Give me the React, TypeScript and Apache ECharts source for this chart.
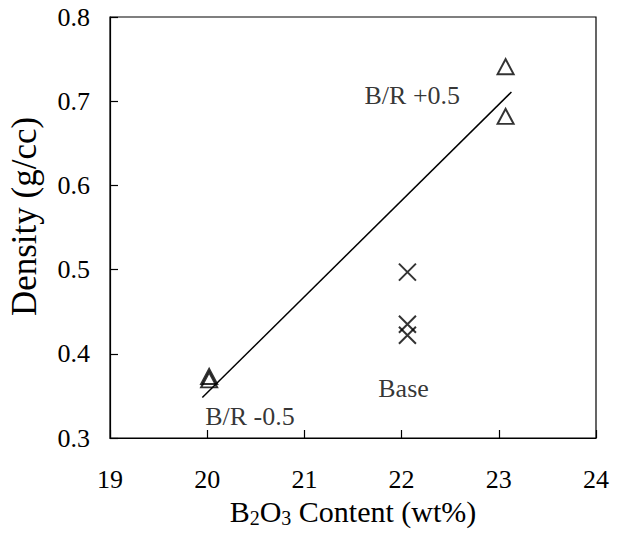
import React, { useEffect, useRef } from "react";
import * as echarts from "echarts";

const triangleX = [20.02, 20.02, 23.07, 23.07];
const triangleY = [0.373, 0.369, 0.741, 0.682];
const crossX = [22.06, 22.06, 22.06];
const crossY = [0.497, 0.435, 0.422];
const fitX = [19.95, 23.13];
const fitY = [0.348, 0.711];
const labelNames = ["B/R +0.5", "Base", "B/R -0.5"];
const labelX = [22.11, 22.02, 20.44];
const labelY = [0.7065, 0.359, 0.3256];

const FONT = "'Liberation Serif', 'Times New Roman', serif";

export default function App() {
  const ref = useRef<HTMLDivElement>(null);
  useEffect(() => {
    if (!ref.current) return;
    const chart = echarts.init(ref.current, undefined, { renderer: "svg" });
    chart.setOption({
      animation: false,
      backgroundColor: "#ffffff",
      grid: {
        left: 110,
        right: 36,
        top: 17,
        bottom: 98,
        show: true,
        borderColor: "#000",
        borderWidth: 1.2,
        containLabel: false,
        outerBoundsMode: "none",
      },
      xAxis: {
        type: "value",
        min: 19,
        max: 24,
        interval: 1,
        name: "B{s|2}O{s|3} Content (wt%)",
        nameLocation: "middle",
        nameGap: 49,
        nameTextStyle: {
          color: "#000",
          fontFamily: FONT,
          fontSize: 30,
          rich: {
            s: { fontSize: 20, fontFamily: FONT, color: "#000", verticalAlign: "bottom", padding: [12, 0, 0, 0] },
          },
        },
        axisLine: { show: true, lineStyle: { color: "#000", width: 1.2 } },
        axisTick: { show: true, inside: true, length: 8, lineStyle: { color: "#000", width: 1.2 } },
        axisLabel: { color: "#000", fontFamily: FONT, fontSize: 26, margin: 28 },
        splitLine: { show: false },
      },
      yAxis: {
        type: "value",
        min: 0.3,
        max: 0.8,
        interval: 0.1,
        name: "Density (g/cc)",
        nameLocation: "middle",
        nameGap: 68,
        nameTextStyle: { color: "#000", fontFamily: FONT, fontSize: 35, padding: [0, 0, 0, 22] },
        axisLine: { show: true, lineStyle: { color: "#000", width: 1.2 } },
        axisTick: { show: true, inside: true, length: 8, lineStyle: { color: "#000", width: 1.2 } },
        axisLabel: {
          color: "#000",
          fontFamily: FONT,
          fontSize: 26,
          margin: 20,
          formatter: (v: number) => v.toFixed(1),
        },
        splitLine: { show: false },
      },
      series: [
        {
          type: "line",
          data: fitX.map((x, i) => [x, fitY[i]]),
          showSymbol: false,
          lineStyle: { color: "#000", width: 1.5 },
          silent: true,
        },
        {
          type: "scatter",
          data: triangleX.map((x, i) => [x, triangleY[i]]),
          symbol: "triangle",
          symbolSize: [16, 15],
          itemStyle: { color: "none", borderColor: "#000", borderWidth: 2 },
        },
        {
          type: "scatter",
          data: crossX.map((x, i) => [x, crossY[i]]),
          symbol: "path://M0,0L10,10M10,0L0,10",
          symbolSize: 17,
          itemStyle: { color: "none", borderColor: "#000", borderWidth: 2 },
        },
        {
          type: "scatter",
          data: labelNames.map((n, i) => ({ name: n, value: [labelX[i], labelY[i]] })),
          symbolSize: 0,
          silent: true,
          label: {
            show: true,
            position: "inside",
            formatter: (p: any) => p.name,
            color: "#000",
            fontFamily: FONT,
            fontSize: 26,
          },
        },
      ],
    });
    return () => chart.dispose();
  }, []);
  return (
    <div
      ref={ref}
      style={{ position: "fixed", left: 0, top: 0, width: 632, height: 536, background: "#fff" }}
    />
  );
}
